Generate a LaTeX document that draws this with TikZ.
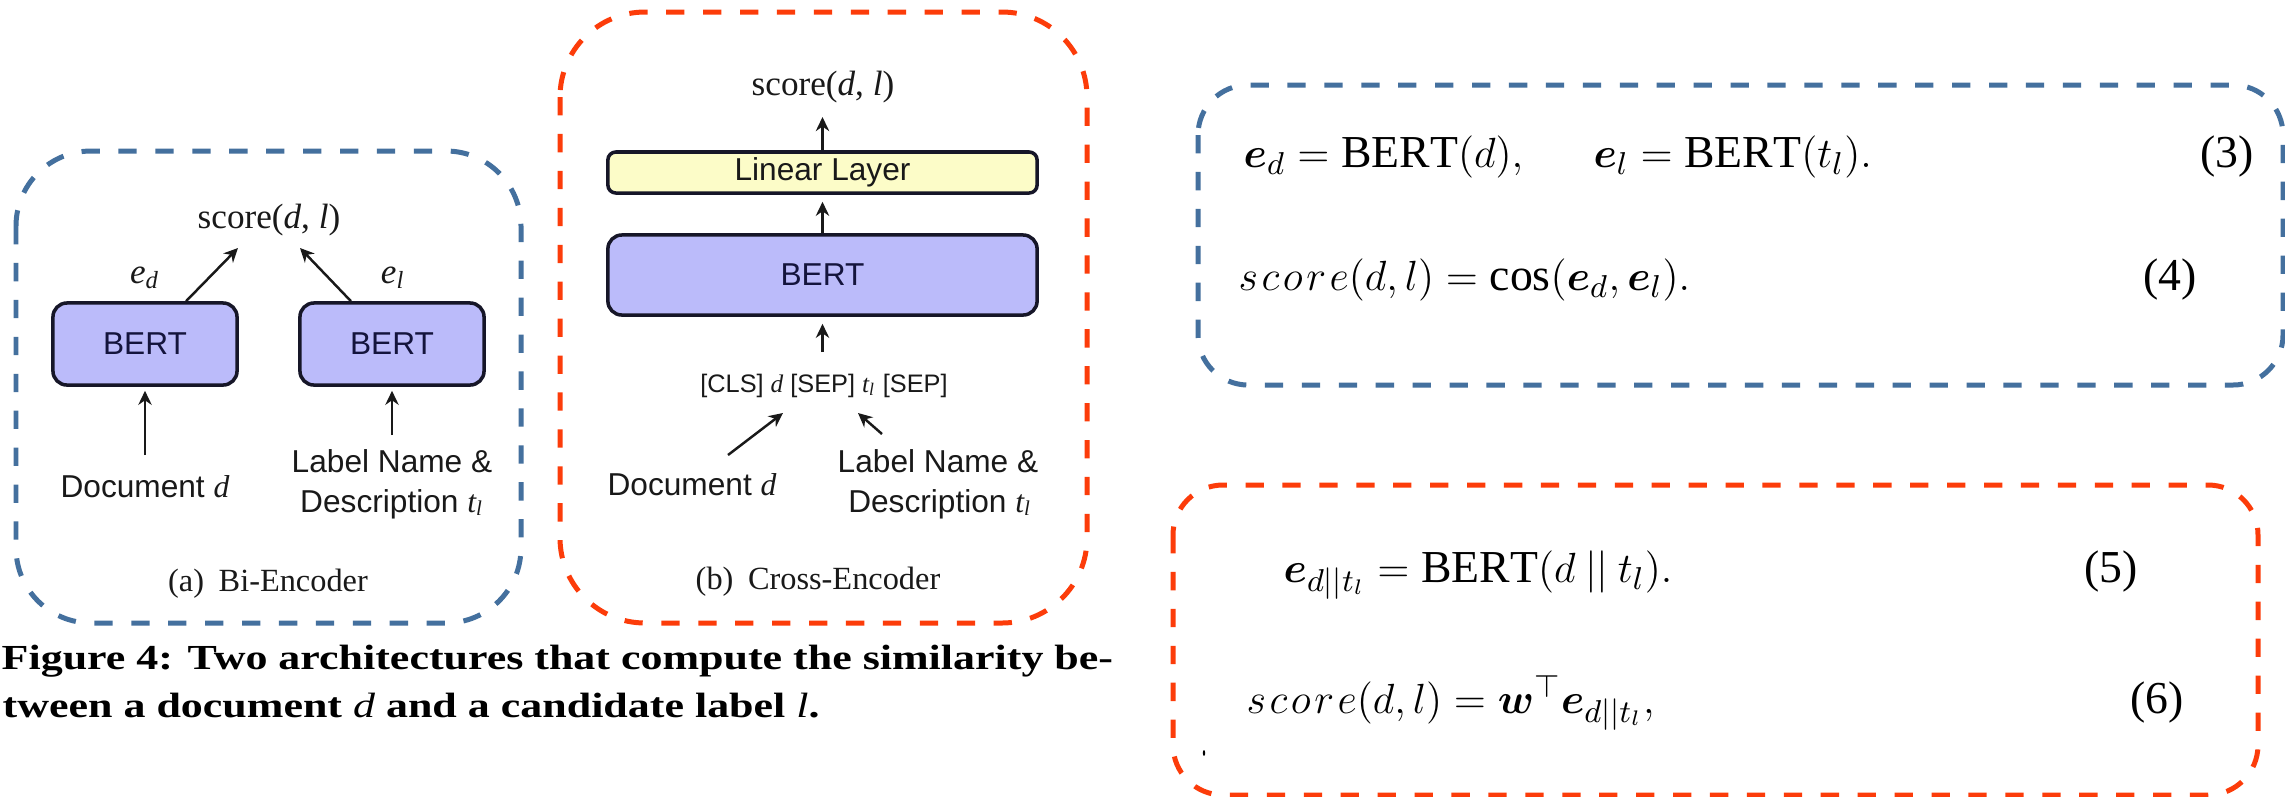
\documentclass[tikz,border=0pt]{standalone}
\usepackage{amsmath,amssymb}
\usepackage{fontspec}
\setmainfont{Liberation Serif}
\setsansfont{Liberation Sans}
\usetikzlibrary{arrows.meta}
\definecolor{frameblue}{RGB}{68,112,158}
\definecolor{framered}{RGB}{252,60,10}
\definecolor{bertfill}{RGB}{187,187,250}
\definecolor{linfill}{RGB}{252,252,200}
\definecolor{boxedge}{RGB}{22,22,40}
\definecolor{berttext}{RGB}{20,20,60}
\definecolor{ink}{RGB}{25,25,25}
\newcommand{\scorew}{s\mkern1.5mu c\mkern1.5mu o\mkern1.5mu r\mkern1.5mu e}
\tikzset{
  framea/.style={draw=frameblue, line width=1.42pt, dash pattern=on 5.2pt off 5.3pt},
  frameb/.style={draw=framered, line width=1.42pt, dash pattern=on 5.2pt off 5.3pt},
  bertbox/.style={draw=boxedge, fill=bertfill, line width=1pt, rounded corners=0.14cm,
    text=berttext, font=\sffamily\fontsize{9}{11}\selectfont, inner sep=0pt},
  linbox/.style={draw=boxedge, fill=linfill, line width=1pt, rounded corners=0.08cm,
    text=ink, font=\sffamily\fontsize{9}{11}\selectfont, inner sep=0pt},
  sfnine/.style={text=ink, font=\sffamily\fontsize{9}{11}\selectfont, inner sep=0pt},
  sfseven/.style={text=ink, font=\sffamily\fontsize{7.2}{9}\selectfont, inner sep=0pt},
  serten/.style={text=ink, font=\rmfamily\fontsize{10}{12}\selectfont, inner sep=0pt},
  subcap/.style={text=ink, font=\rmfamily\fontsize{9.2}{11}\selectfont, inner sep=0pt},
  eqtext/.style={text=black, font=\fontsize{13}{15}\selectfont, inner sep=0pt},
  captext/.style={text=black, inner sep=0pt},
  flow/.style={draw=ink, line width=0.7pt, -{Stealth[length=4pt,width=3.8pt,inset=1.3pt]}},
}
\begin{document}
\begin{tikzpicture}[x=0.01cm,y=-0.01cm]
\fill[white] (0,0) rectangle (2285,796);
\useasboundingbox (0,0) rectangle (2285,796);

% ---------- (a) Bi-Encoder ----------
\draw[framea, rounded corners=0.75cm] (16,151) rectangle (521,623);
\node[bertbox, minimum width=1.84cm, minimum height=0.82cm] (bertA1) at (145,344) {BERT};
\node[bertbox, minimum width=1.84cm, minimum height=0.82cm] (bertA2) at (392,344) {BERT};
\node[serten, anchor=base] (scoreA) at (269,228) {score(\textit{d}, \textit{l})};
\node[serten, anchor=base] (edA) at (145,283) {\textit{e}\textsubscript{\textit{d}}};
\node[serten, anchor=base] (elA) at (393,283) {\textit{e}\textsubscript{\textit{l}}};
\node[sfnine, anchor=base] (docA) at (145,497) {Document {\rmfamily\itshape d}};
\node[sfnine, anchor=base] (labA1) at (392,472) {Label Name \&};
\node[sfnine, anchor=base] (labA2) at (392,512) {Description {\rmfamily\itshape t\textsubscript{l}}};
\node[subcap, anchor=base] (capA) at (268,591) {(a)\hspace{0.45em}Bi-Encoder};
\coordinate (tipAL) at (238,248);
\coordinate (tipAR) at (300,248);
\coordinate (tailDA) at (145,455);
\coordinate (tailLA) at (392,435);
\draw[flow] ([xshift=0.41cm]bertA1.north) -- (tipAL);
\draw[flow] ([xshift=-0.41cm]bertA2.north) -- (tipAR);
\draw[flow, shorten >=0.04cm] (tailDA) -- (bertA1.south);
\draw[flow, shorten >=0.04cm] (tailLA) -- (bertA2.south);

% ---------- (b) Cross-Encoder ----------
\draw[frameb, rounded corners=0.85cm] (560,12) rectangle (1087,623);
\node[serten, anchor=base] (scoreB) at (823,95) {score(\textit{d}, \textit{l})};
\node[linbox, minimum width=4.29cm, minimum height=0.41cm] (lin) at (822.5,172.5) {Linear Layer};
\node[bertbox, minimum width=4.29cm, minimum height=0.80cm] (bertB) at (822.5,275) {BERT};
\node[sfseven, anchor=base] (cls) at (824,392) {[CLS] {\rmfamily\itshape d} [SEP] {\rmfamily\itshape t\textsubscript{l}} [SEP]};
\node[sfnine, anchor=base] (docB) at (692,495) {Document {\rmfamily\itshape d}};
\node[sfnine, anchor=base] (labB1) at (938,472) {Label Name \&};
\node[sfnine, anchor=base] (labB2) at (940,512) {Description {\rmfamily\itshape t\textsubscript{l}}};
\node[subcap, anchor=base] (capB) at (818,589) {(b)\hspace{0.45em}Cross-Encoder};
\coordinate (tipB) at (822.5,117);
\coordinate (tailC) at (822.5,352);
\coordinate (tailDB) at (728,455);
\coordinate (tipDB) at (783,413);
\coordinate (tailLB) at (882,434);
\coordinate (tipLB) at (858,413);
\draw[flow] (lin.north) -- (tipB);
\draw[flow, shorten >=0.07cm] (bertB.north) -- (lin.south);
\draw[flow, shorten >=0.07cm] (tailC) -- (bertB.south);
\draw[flow] (tailDB) -- (tipDB);
\draw[flow] (tailLB) -- (tipLB);

% ---------- caption ----------
\node[captext, anchor=base west] (cap1) at (1,669)
  {\scalebox{1.25}[1]{\fontsize{10}{12}\selectfont\bfseries Figure 4: Two architectures that compute the similarity be-}};
\node[captext, anchor=base west] (cap2) at (2,717)
  {\scalebox{1.25}[1]{\fontsize{10}{12}\selectfont\bfseries tween a document {\mdseries\itshape d} and a candidate label {\mdseries\itshape l}.}};

% ---------- equations ----------
\draw[framea, rounded corners=0.5cm] (1198,85) rectangle (2283,385);
\draw[frameb, rounded corners=0.5cm] (1173,485) rectangle (2258,795);
\node[eqtext, anchor=base west] (eq3) at (1243,167)
  {$\boldsymbol{e}_d = \mathrm{BERT}(d),\hspace{18pt}\boldsymbol{e}_l = \mathrm{BERT}(t_l).$};
\node[eqtext, anchor=base] (num3) at (2227,167) {(3)};
\node[eqtext, anchor=base west] (eq4) at (1238,290)
  {$\scorew(d,l) = \cos(\boldsymbol{e}_d,\boldsymbol{e}_l).$};
\node[eqtext, anchor=base] (num4) at (2170,290) {(4)};
\node[eqtext, anchor=base west] (eq5) at (1283,582)
  {$\boldsymbol{e}_{d||t_l} = \mathrm{BERT}(d \mathbin{||} t_l).$};
\node[eqtext, anchor=base] (num5) at (2111,582) {(5)};
\node[eqtext, anchor=base west] (eq6) at (1246,713)
  {$\scorew(d,l) = \boldsymbol{w}^{\top}\boldsymbol{e}_{d||t_l},$};
\node[eqtext, anchor=base] (num6) at (2157,713) {(6)};
\fill[black] (1204,753) ellipse [x radius=0.012cm, y radius=0.028cm];
\end{tikzpicture}
\end{document}
